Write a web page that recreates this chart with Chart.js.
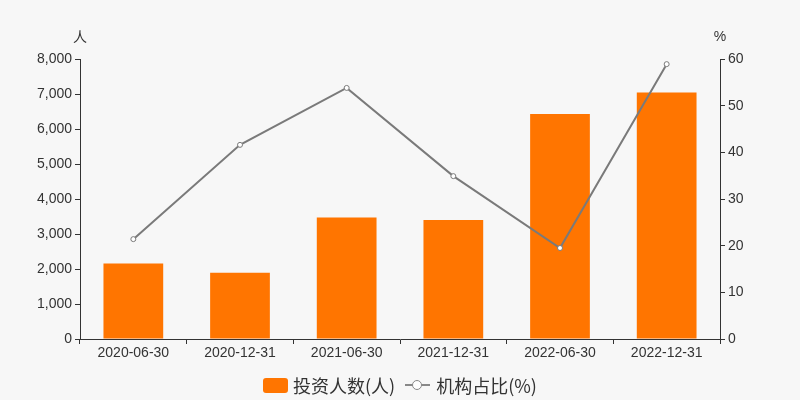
<!DOCTYPE html>
<html>
<head>
<meta charset="utf-8">
<script src="https://cdn.jsdelivr.net/npm/chart.js@4.4.1/dist/chart.umd.min.js"></script>
<style>
    html, body { margin: 0; padding: 0; background: #f7f7f7; }
    #wrap { position: relative; width: 800px; height: 400px; }
    #legend {
        position: absolute; left: 0; top: 371px; width: 800px; height: 28px;
        display: flex; justify-content: center; align-items: center;
        font-family: "Noto Sans CJK SC", "Liberation Sans", sans-serif; font-size: 18px; color: #333;
    }
    .item { display: flex; align-items: center; margin: 0 5px; }
    .swatch { width: 25px; height: 15px; border-radius: 3px; background: #ff7500; margin-right: 5px; }
    .lineMark { position: relative; width: 25px; height: 14px; margin-right: 6px; }
    .lineMark::before { content: ""; position: absolute; left: 0; right: 0; top: 6px; height: 2px; background: #888; }
    .lineMark::after {
        content: ""; position: absolute; left: 7px; top: 2px; width: 8px; height: 8px;
        border: 1.5px solid #888; border-radius: 50%; background: #fff;
    }
</style>
</head>
<body>
<div id="wrap">
    <canvas id="chart" width="800" height="400"></canvas>
    <div id="legend">
        <div class="item"><span class="swatch"></span>投资人数(人)</div>
        <div class="item"><span class="lineMark"></span>机构占比(%)</div>
    </div>
</div>
<script>
const categories = ['2020-06-30', '2020-12-31', '2021-06-30', '2021-12-31', '2022-06-30', '2022-12-31'];
const investors = [2160, 1890, 3470, 3400, 6430, 7040];
const institutionPct = [21.4, 41.6, 53.8, 34.9, 19.5, 58.9];
const leftTicks = [0, 1000, 2000, 3000, 4000, 5000, 6000, 7000, 8000];
const rightTicks = [0, 10, 20, 30, 40, 50, 60];

const tickFont = { family: '"Liberation Sans", Arial, sans-serif', size: 14 };

// 坐标轴单位标签
const unitPlugin = {
    id: 'unitLabels',
    afterDraw(chart) {
        const c = chart.ctx;
        const area = chart.chartArea;
        c.save();
        c.fillStyle = '#333';
        c.textAlign = 'center';
        c.textBaseline = 'middle';
        c.font = '14px "Noto Sans CJK SC", sans-serif';
        c.fillText('人', area.left, 37);
        c.font = '14px "Liberation Sans", Arial, sans-serif';
        c.fillText('%', area.right, 37);
        c.restore();
    }
};

new Chart(document.getElementById('chart'), {
    type: 'bar',
    data: {
        labels: categories,
        datasets: [
            {
                type: 'line',
                label: '机构占比(%)',
                data: institutionPct,
                yAxisID: 'y1',
                borderColor: '#7a7a7a',
                borderWidth: 2,
                pointRadius: 2.5,
                pointBorderWidth: 1,
                pointBackgroundColor: '#ffffff',
                pointBorderColor: '#7a7a7a',
                tension: 0,
                order: 0
            },
            {
                label: '投资人数(人)',
                data: investors,
                yAxisID: 'y',
                backgroundColor: '#ff7500',
                barPercentage: 0.56,
                categoryPercentage: 1,
                order: 1
            }
        ]
    },
    options: {
        responsive: false,
        animation: false,
        layout: { padding: { top: 59, left: 0, right: 0, bottom: 0 } },
        plugins: {
            legend: { display: false },
            tooltip: { enabled: false }
        },
        scales: {
            x: {
                grid: { display: true, drawOnChartArea: false, offset: true, tickLength: 5, color: '#333' },
                border: { display: true, color: '#333' },
                ticks: { color: '#333', font: tickFont, maxRotation: 0, padding: 1 },
                afterFit(scale) { scale.height = 61; }
            },
            y: {
                position: 'left',
                min: 0,
                max: 8000,
                afterBuildTicks(scale) { scale.ticks = leftTicks.map(v => ({ value: v })); },
                grid: { drawOnChartArea: false, tickLength: 5, color: '#333' },
                border: { display: true, color: '#333' },
                ticks: {
                    color: '#333', font: tickFont, padding: 3,
                    callback: v => v.toLocaleString('en-US')
                },
                afterFit(scale) { scale.width = 80; }
            },
            y1: {
                position: 'right',
                min: 0,
                max: 60,
                afterBuildTicks(scale) { scale.ticks = rightTicks.map(v => ({ value: v })); },
                grid: { drawOnChartArea: false, tickLength: 5, color: '#333' },
                border: { display: true, color: '#333' },
                ticks: { color: '#333', font: tickFont, padding: 3 },
                afterFit(scale) { scale.width = 80; }
            }
        }
    },
    plugins: [unitPlugin]
});
</script>
</body>
</html>
